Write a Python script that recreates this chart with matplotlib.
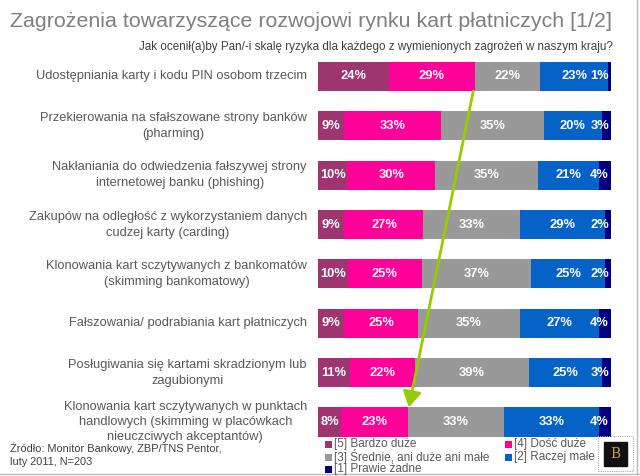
import matplotlib
matplotlib.use("Agg")
import matplotlib.pyplot as plt
import numpy as np
from matplotlib.patches import Rectangle
from matplotlib.lines import Line2D

plt.rcParams['font.family'] = ['Liberation Sans', 'DejaVu Sans']

categories = [
    "Udostępniania karty i kodu PIN osobom trzecim",
    "Przekierowania na sfałszowane strony banków\n(pharming)",
    "Nakłaniania do odwiedzenia fałszywej strony\ninternetowej banku (phishing)",
    "Zakupów na odległość z wykorzystaniem danych\ncudzej karty (carding)",
    "Klonowania kart sczytywanych z bankomatów\n(skimming bankomatowy)",
    "Fałszowania/ podrabiania kart płatniczych",
    "Posługiwania się kartami skradzionym lub\nzagubionymi",
    "Klonowania kart sczytywanych w punktach\nhandlowych (skimming w placówkach\nnieuczciwych akceptantów)",
]
series_names = ["[5] Bardzo duże", "[4] Dość duże", "[3] Średnie, ani duże ani małe",
                "[2] Raczej małe", "[1] Prawie żadne"]
s5 = [24, 9, 10, 9, 10, 9, 11, 8]
s4 = [29, 33, 30, 27, 25, 25, 22, 23]
s3 = [22, 35, 35, 33, 37, 35, 39, 33]
s2 = [23, 20, 21, 29, 25, 27, 25, 33]
s1 = [1, 3, 4, 2, 2, 4, 3, 4]
colors = ["#9E3470", "#FF0099", "#999999", "#0563C8", "#000080"]

data = np.array([s5, s4, s3, s2, s1], dtype=float)
totals = data.sum(axis=0)
norm = data / totals * 100

fig = plt.figure(figsize=(6.4, 4.76), dpi=100)
ax = fig.add_axes([0.4969, 0.0616, 0.4578, 0.8296])
y = np.arange(len(categories))
left = np.zeros(len(categories))
for i in range(5):
    ax.barh(y, norm[i], left=left, height=0.59, color=colors[i], label=series_names[i])
    for j in range(len(categories)):
        if i == 4:
            xpos = 99.3
            ha = 'right'
        else:
            xpos = left[j] + norm[i][j] / 2
            ha = 'center'
        ax.text(xpos, y[j], f"{int(data[i][j])}%", ha=ha, va='center', color='white',
                fontsize=9.3, fontweight='bold')
    left = left + norm[i]

ax.set_xlim(0, 100)
ax.set_ylim(len(categories) - 0.5, -0.5)
ax.axis('off')

for j, c in enumerate(categories):
    ls = 1.3 if c.count("\n") > 1 else 1.45
    ax.text(-3.8, y[j], c, ha='right', va='center', multialignment='center',
            color='#595959', fontsize=9.3, linespacing=ls)

# green arrow
ax.annotate("", xy=(31, 7 - 0.295), xytext=(53, 0.295),
            arrowprops=dict(arrowstyle='-|>,head_length=0.6,head_width=0.35', color='#99CC00',
                            lw=2, mutation_scale=16, shrinkA=0, shrinkB=0))

fig.text(0.016, 0.955, "Zagrożenia towarzyszące rozwojowi rynku kart płatniczych [1/2]",
         fontsize=15.4, color='#7F7F7F', ha='left', va='center')
fig.text(0.957, 0.902, "Jak ocenił(a)by Pan/-i skalę ryzyka dla każdego z wymienionych zagrożeń w naszym kraju?",
         fontsize=8.4, color='#404040', ha='right', va='center')
fig.text(0.016, 0.045, "Źródło: Monitor Bankowy, ZBP/TNS Pentor,\nluty 2011, N=203",
         fontsize=7.9, color='#404040', ha='left', va='center', linespacing=1.4)

# legend (manual layout: 2 columns, row-major order)
W, H = 640.0, 476.0
leg_cols_px = [325, 505]
leg_rows_px = [444, 457, 469]
for k, name in enumerate(series_names):
    r, cidx = divmod(k, 2)
    xp = leg_cols_px[cidx]
    yp = leg_rows_px[r]
    fig.add_artist(Rectangle((xp / W, 1 - (yp + 3.5) / H), 7 / W, 7 / H,
                             transform=fig.transFigure, facecolor=colors[k], edgecolor='none'))
    fig.text((xp + 9) / W, 1 - yp / H, name, fontsize=8.5, color='#595959',
             ha='left', va='center')

# logo
fig.add_artist(Rectangle((0.934, 0.01), 0.055, 0.073, transform=fig.transFigure,
                         fill=False, edgecolor='#aaaaaa', lw=0.8, ls=(0, (1, 1))))
fig.add_artist(Rectangle((0.944, 0.022), 0.035, 0.049, transform=fig.transFigure,
                         facecolor='#111111', edgecolor='#111111'))
fig.text(0.9615, 0.046, "B", fontsize=10, color='#C8A040', ha='center', va='center',
         family='DejaVu Serif')

# frame lines
fig.add_artist(Line2D([0.995, 0.995], [0.004, 1.0], transform=fig.transFigure, color='#BBBBBB', lw=1))
fig.add_artist(Line2D([0.0, 1.0], [0.004, 0.004], transform=fig.transFigure, color='#BBBBBB', lw=1))

fig.savefig("out.png", dpi=100)
